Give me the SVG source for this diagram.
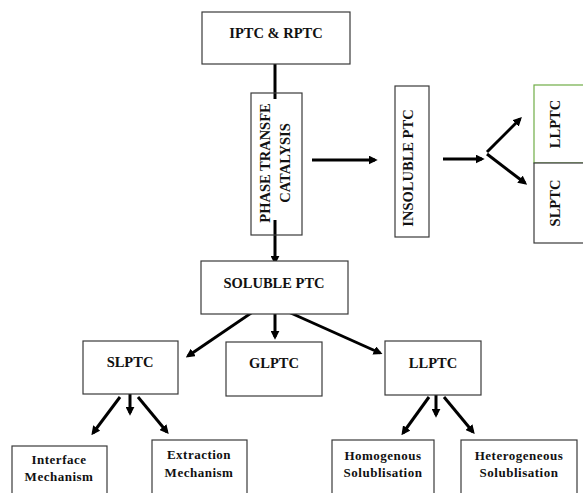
<svg xmlns="http://www.w3.org/2000/svg" width="583" height="493" viewBox="0 0 583 493">
<style>
.box{fill:#fff;stroke:#3a3a3a;stroke-width:1.2}
.t{font-family:"Liberation Serif",serif;font-weight:bold;font-size:14.5px;fill:#111;text-anchor:middle}
.s{font-family:"Liberation Serif",serif;font-weight:bold;font-size:13px;fill:#111;text-anchor:middle;letter-spacing:0.5px}
.c{stroke:#000;stroke-width:3;fill:none}
</style>
<defs>
<marker id="ah" viewBox="0 0 10 10" refX="7" refY="5" markerWidth="3" markerHeight="3" orient="auto" markerUnits="strokeWidth">
<path d="M0,0 L10,5 L0,10 Z" fill="#000"/>
</marker>
</defs>
<rect width="583" height="493" fill="#fff"/>
<g id="connectors">
<line class="c" x1="275" y1="64" x2="275" y2="99"/>
<line class="c" x1="275" y1="220" x2="275" y2="262" marker-end="url(#ah)"/>
<line class="c" x1="312" y1="160" x2="375" y2="160" marker-end="url(#ah)"/>
<line class="c" x1="443" y1="159" x2="482" y2="159" marker-end="url(#ah)"/>
<line class="c" x1="487" y1="152" x2="520" y2="119" marker-end="url(#ah)"/>
<line class="c" x1="487" y1="154" x2="525" y2="183" marker-end="url(#ah)"/>
<line class="c" x1="263" y1="305" x2="188" y2="356" marker-end="url(#ah)"/>
<line class="c" x1="275" y1="305" x2="275" y2="337" marker-end="url(#ah)"/>
<line class="c" x1="284" y1="310" x2="380" y2="353" marker-end="url(#ah)"/>
<line class="c" x1="120" y1="397" x2="93" y2="433" marker-end="url(#ah)"/>
<line class="c" x1="130" y1="382" x2="130" y2="413" marker-end="url(#ah)"/>
<line class="c" x1="138" y1="397" x2="167" y2="432" marker-end="url(#ah)"/>
<line class="c" x1="429" y1="397" x2="403" y2="433" marker-end="url(#ah)"/>
<line class="c" x1="436" y1="383" x2="436" y2="415" marker-end="url(#ah)"/>
<line class="c" x1="444" y1="397" x2="473" y2="432" marker-end="url(#ah)"/>
</g>
<g id="iptc">
<rect class="box" x="202" y="12" width="148" height="52"/>
<text class="t" x="276" y="38">IPTC &amp; RPTC</text>
</g>
<g id="ptc">
<rect class="box" x="251" y="93" width="51" height="142" fill-opacity="0"/>
<text class="t" transform="translate(270,163) rotate(-90)">PHASE TRANSFE</text>
<text class="t" transform="translate(290,163) rotate(-90)">CATALYSIS</text>
</g>
<g id="insoluble">
<rect class="box" x="395" y="86" width="34" height="151"/>
<text class="t" font-size="14" transform="translate(413,168) rotate(-90)">INSOLUBLE PTC</text>
</g>
<g id="llptc-right">
<rect x="534" y="85" width="60" height="78" fill="#fff" stroke="#70ad47" stroke-width="1.2"/>
<text class="t" transform="translate(560,124) rotate(-90)">LLPTC</text>
</g>
<g id="slptc-right">
<rect class="box" x="534" y="163" width="60" height="80"/>
<text class="t" transform="translate(560,203) rotate(-90)">SLPTC</text>
</g>
<g id="soluble">
<rect class="box" x="201" y="261" width="147" height="53"/>
<text class="t" x="274" y="288">SOLUBLE PTC</text>
</g>
<g id="slptc">
<rect class="box" x="83" y="341" width="95" height="53"/>
<text class="t" x="130" y="367">SLPTC</text>
</g>
<g id="glptc">
<rect class="box" x="226" y="342" width="96" height="54"/>
<text class="t" x="274" y="368">GLPTC</text>
</g>
<g id="llptc">
<rect class="box" x="385" y="341" width="96" height="54"/>
<text class="t" x="433" y="368">LLPTC</text>
</g>
<g id="interface">
<rect class="box" x="12" y="446" width="95" height="60"/>
<text class="s" x="59" y="464">Interface</text>
<text class="s" x="59" y="481">Mechanism</text>
</g>
<g id="extraction">
<rect class="box" x="152" y="440" width="95" height="66"/>
<text class="s" x="199" y="459">Extraction</text>
<text class="s" x="199" y="477">Mechanism</text>
</g>
<g id="homogenous">
<rect class="box" x="332" y="440" width="102" height="66"/>
<text class="s" x="383" y="460">Homogenous</text>
<text class="s" x="383" y="477">Solublisation</text>
</g>
<g id="heterogeneous">
<rect class="box" x="461" y="440" width="116" height="66"/>
<text class="s" x="519" y="460">Heterogeneous</text>
<text class="s" x="519" y="477">Solublisation</text>
</g>
</svg>
